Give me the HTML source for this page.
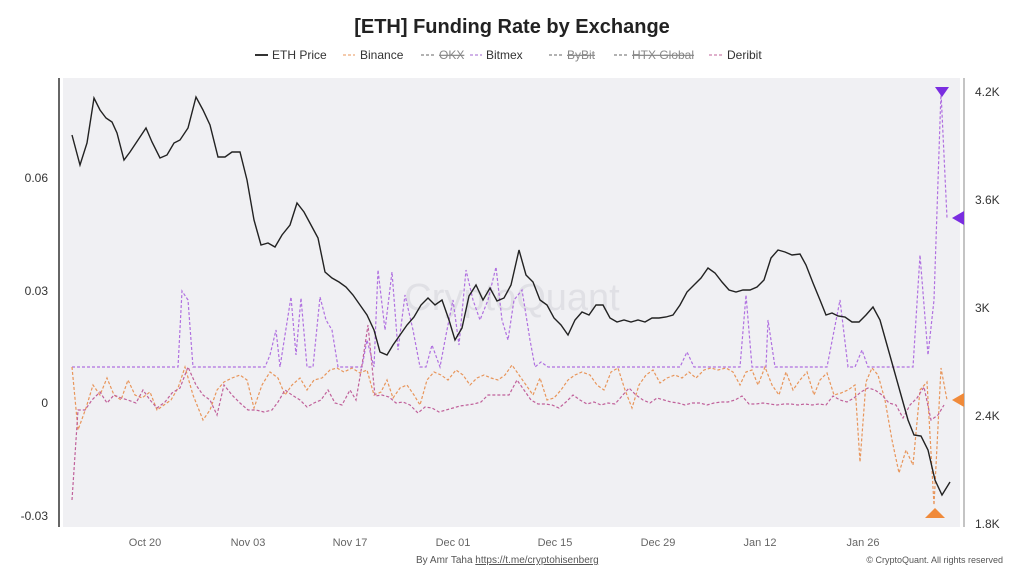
<!DOCTYPE html>
<html><head><meta charset="utf-8"><style>
body{margin:0;background:#fff;font-family:"Liberation Sans",sans-serif;}
</style></head><body>
<svg width="1024" height="574" viewBox="0 0 1024 574" xmlns="http://www.w3.org/2000/svg" font-family="Liberation Sans, sans-serif">
<rect width="1024" height="574" fill="#fff"/>
<text x="512" y="33" text-anchor="middle" font-size="20" font-weight="bold" fill="#222">[ETH] Funding Rate by Exchange</text>
<g font-size="12" fill="#333">
<line x1="255" y1="55" x2="268" y2="55" stroke="#333" stroke-width="2"/><text x="272" y="59">ETH Price</text>
<line x1="343" y1="55" x2="355" y2="55" stroke="#e8955a" stroke-dasharray="3,2"/><text x="360" y="59">Binance</text>
<line x1="421" y1="55" x2="434" y2="55" stroke="#666" stroke-dasharray="3,2"/><text x="439" y="59" fill="#888" text-decoration="line-through">OKX</text>
<line x1="470" y1="55" x2="482" y2="55" stroke="#a066d0" stroke-dasharray="3,2"/><text x="486" y="59">Bitmex</text>
<line x1="549" y1="55" x2="562" y2="55" stroke="#666" stroke-dasharray="3,2"/><text x="567" y="59" fill="#888" text-decoration="line-through">ByBit</text>
<line x1="614" y1="55" x2="627" y2="55" stroke="#666" stroke-dasharray="3,2"/><text x="632" y="59" fill="#888" text-decoration="line-through">HTX Global</text>
<line x1="709" y1="55" x2="722" y2="55" stroke="#c0609a" stroke-dasharray="3,2"/><text x="727" y="59">Deribit</text>
</g>
<rect x="63" y="78" width="897" height="449" fill="#f0f0f3"/>
<line x1="59" y1="78" x2="59" y2="527" stroke="#333" stroke-width="1.5"/>
<line x1="964" y1="78" x2="964" y2="527" stroke="#888" stroke-width="1"/>
<g font-size="12" fill="#333" text-anchor="end">
<text x="48" y="182">0.06</text><text x="48" y="295">0.03</text><text x="48" y="407">0</text><text x="48" y="520">-0.03</text>
</g>
<g font-size="12" fill="#333">
<text x="975" y="96">4.2K</text><text x="975" y="204">3.6K</text><text x="975" y="312">3K</text><text x="975" y="420">2.4K</text><text x="975" y="528">1.8K</text>
</g>
<g font-size="11" fill="#666" text-anchor="middle">
<text x="145" y="546">Oct 20</text><text x="248" y="546">Nov 03</text><text x="350" y="546">Nov 17</text><text x="453" y="546">Dec 01</text><text x="555" y="546">Dec 15</text><text x="658" y="546">Dec 29</text><text x="760" y="546">Jan 12</text><text x="863" y="546">Jan 26</text>
</g>
<text x="512" y="310" text-anchor="middle" font-size="38" fill="#e0e0e5">CryptoQuant</text>
<g fill="none" stroke-width="1.2" stroke-dasharray="3,2">
<polyline stroke="#b070e0" points="72,367 178,367 182,291 188,300 193,367 265,367 270,355 276,330 280,367 285,335 291,297 296,355 301,298 307,367 313,367 320,297 326,320 332,330 338,367 362,367 367,340 374,367 378,270 385,330 392,272 398,350 405,295 413,330 420,367 426,367 432,345 440,367 446,335 453,300 459,345 466,270 473,300 480,320 488,300 496,267 502,320 508,340 514,300 522,290 530,340 535,367 541,362 548,367 680,367 687,352 694,367 740,367 746,295 752,367 766,367 768,320 775,367 827,367 840,300 848,367 855,367 862,350 868,367 913,367 920,255 928,355 934,300 941,92 947,218"/>
<polyline stroke="#e8955a" points="72,367 78,430 86,408 93,385 100,395 107,378 114,395 121,400 128,380 135,395 142,398 150,392 157,410 164,405 171,400 178,388 185,367 193,395 203,420 210,410 217,390 224,382 232,378 240,375 247,380 254,408 262,385 270,372 278,378 285,395 292,385 300,378 307,390 314,380 322,378 330,370 337,368 344,372 352,368 360,373 367,370 374,395 381,392 387,380 393,398 400,388 407,385 414,395 420,405 427,380 434,372 441,375 448,380 456,370 463,375 470,385 477,378 484,375 491,378 498,380 505,375 512,365 519,375 526,385 533,395 540,378 547,400 554,398 561,390 568,380 575,375 582,372 590,375 597,385 604,390 611,372 618,368 625,390 632,408 639,385 646,375 653,370 660,383 667,378 675,375 682,378 689,372 696,378 704,370 711,368 718,370 726,368 733,372 740,385 746,372 752,370 758,385 765,367 772,385 779,395 786,372 793,390 800,380 807,372 814,395 820,380 827,373 834,395 841,393 848,390 855,385 860,462 866,382 872,368 878,375 885,400 892,440 899,473 906,450 913,465 920,390 927,382 934,505 941,368 947,400"/>
<polyline stroke="#c0609a" points="72,500 78,410 85,410 92,400 100,392 107,403 114,395 121,398 128,400 136,403 143,390 150,400 157,408 165,402 172,393 180,388 188,367 196,385 203,395 210,400 217,415 224,385 232,395 240,403 248,410 256,410 264,412 272,410 278,402 285,390 292,395 300,400 307,407 314,403 321,400 328,390 335,403 342,405 350,390 356,400 362,365 368,325 375,396 382,395 389,397 396,403 403,402 410,405 418,413 425,407 432,408 439,412 446,410 453,408 460,406 467,405 474,404 481,402 488,395 495,395 502,395 509,395 517,380 524,390 531,400 538,404 545,404 552,405 559,408 566,402 573,395 580,400 587,404 594,402 601,405 608,403 615,404 622,396 629,388 636,395 643,400 650,403 657,398 664,400 671,402 678,403 685,405 692,403 700,403 707,405 714,403 721,402 728,402 735,400 742,396 749,404 756,404 763,403 770,404 777,405 784,404 791,404 798,405 805,404 812,405 819,404 826,405 833,396 840,400 847,402 854,398 861,392 868,388 875,390 882,395 889,403 896,405 903,418 910,405 917,398 924,387 931,420 938,415 944,405"/>
</g>
<polyline fill="none" stroke="#222" stroke-width="1.4" points="72,135 80,165 87,143 94,98 100,110 106,118 112,122 117,133 124,160 130,152 136,143 146,128 152,142 160,158 167,155 174,143 180,140 188,128 196,97 203,110 210,125 218,157 225,157 232,152 240,152 247,180 254,220 261,245 268,243 275,247 282,235 290,225 297,203 304,212 311,225 318,238 325,272 332,278 339,282 346,287 353,295 360,305 367,315 374,330 380,352 387,355 393,345 400,335 407,325 414,317 421,305 428,298 435,305 442,300 449,320 455,340 462,328 469,296 476,285 483,300 490,288 497,301 504,298 511,285 519,250 526,275 533,282 540,300 547,305 554,318 561,325 568,335 575,320 582,312 589,315 596,305 603,305 610,318 617,322 624,320 631,322 638,320 645,322 652,318 659,318 666,317 673,315 680,305 687,292 694,285 701,278 708,268 715,273 722,282 729,290 736,292 743,290 750,290 757,287 764,280 771,258 778,250 785,252 792,255 800,254 806,265 813,283 820,300 826,315 832,313 838,316 845,317 852,322 859,322 866,315 873,307 880,320 887,345 894,370 901,395 908,420 914,435 921,436 928,450 935,480 942,495 950,482"/>
<polygon points="935,87 949,87 942,97" fill="#7a2de0"/>
<polygon points="952,218 964,211 964,225" fill="#7a2de0"/>
<polygon points="952,400 964,393 964,407" fill="#f08a3a"/>
<polygon points="925,518 945,518 935,508" fill="#f08a3a"/>
<text x="416" y="563" font-size="10" fill="#555">By Amr Taha <tspan text-decoration="underline">https://t.me/cryptohisenberg</tspan></text>
<text x="1003" y="563" font-size="9" fill="#555" text-anchor="end">© CryptoQuant. All rights reserved</text>
</svg>
</body></html>
